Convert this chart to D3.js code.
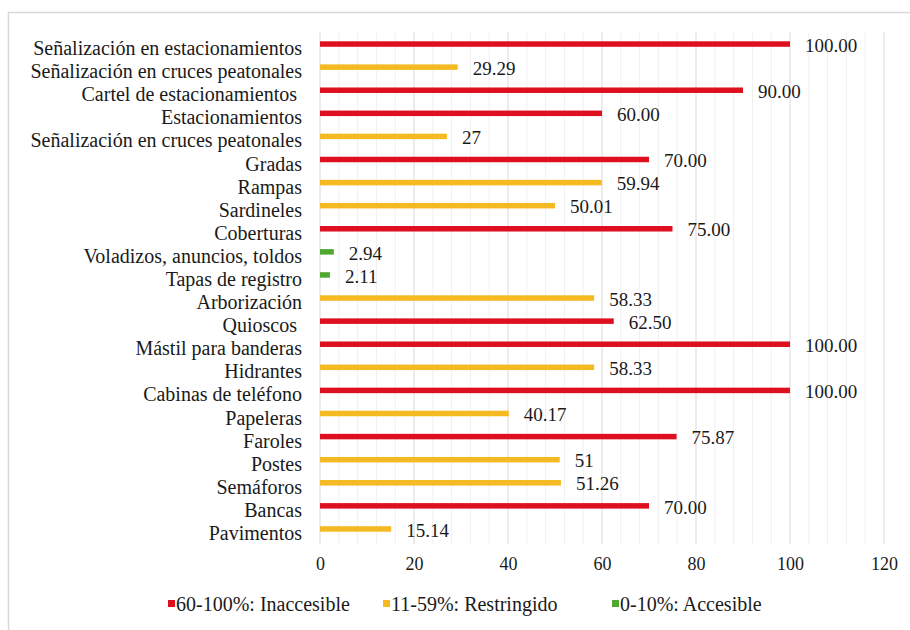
<!DOCTYPE html>
<html><head><meta charset="utf-8">
<script src="https://cdn.jsdelivr.net/npm/d3@7"></script>
<style>
body{margin:0;background:#fff;}
svg text{font-family:"Liberation Serif","Tinos","Times New Roman","DejaVu Serif",serif;fill:#1a1a1a;}
</style></head>
<body><svg id="c" width="910" height="630"></svg>
<script>
const categories = ["Señalización en estacionamientos","Señalización en cruces peatonales","Cartel de estacionamientos ","Estacionamientos","Señalización en cruces peatonales","Gradas","Rampas","Sardineles","Coberturas","Voladizos, anuncios, toldos","Tapas de registro","Arborización","Quioscos ","Mástil para banderas","Hidrantes","Cabinas de teléfono","Papeleras","Faroles","Postes","Semáforos","Bancas","Pavimentos"];
const values = [100,29.29,90,60,27,70,59.94,50.01,75,2.94,2.11,58.33,62.5,100,58.33,100,40.17,75.87,51,51.26,70,15.14];
const valueLabels = ["100.00","29.29","90.00","60.00","27","70.00","59.94","50.01","75.00","2.94","2.11","58.33","62.50","100.00","58.33","100.00","40.17","75.87","51","51.26","70.00","15.14"];
const groups = ["r","y","r","r","y","r","y","y","r","g","g","y","r","r","y","r","y","r","y","y","r","y"];
const legendKeys = ["r","y","g"];
const legendLabels = ["60-100%: Inaccesible","11-59%: Restringido","0-10%: Accesible"];
const xTicks = [0,20,40,60,80,100,120];

const colors = {r:"#DE0F1E", y:"#F5B921", g:"#4EA72E"};
const svg = d3.select("#c");
svg.append("rect").attr("x",8.5).attr("y",12.5).attr("width",920).attr("height",640)
  .attr("fill","none").attr("stroke","#D9D9D9").attr("stroke-width",1.5);

const pLeft=320, pRight=884, pTop=32.5, pBottom=540.5;
const x = d3.scaleLinear().domain([0,120]).range([pLeft,pRight]);
const idx = d3.range(categories.length);
const y = d3.scaleBand().domain(idx).range([pTop,pBottom]);

const g = svg.append("g");
g.selectAll("line.minor").data(d3.range(0,121,4).filter(v=>v%20!==0)).join("line")
  .attr("x1",d=>x(d)).attr("x2",d=>x(d)).attr("y1",pTop).attr("y2",pBottom+4)
  .attr("stroke","#F0F0F0").attr("stroke-width",1);
const g2 = svg.append("g");
g2.selectAll("line").data(xTicks).join("line")
  .attr("x1",d=>x(d)).attr("x2",d=>x(d)).attr("y1",pTop).attr("y2",pBottom+4)
  .attr("stroke","#D9D9D9").attr("stroke-width",1);

const bh = 5.5;
svg.append("g").selectAll("rect").data(idx).join("rect")
  .attr("x",x(0)).attr("y",i=>y(i)+y.bandwidth()/2-bh/2)
  .attr("width",i=>x(values[i])-x(0)).attr("height",bh)
  .attr("fill",i=>colors[groups[i]]);

svg.append("g").selectAll("text").data(idx).join("text")
  .attr("x",i=>x(values[i])+15).attr("y",i=>y(i)+y.bandwidth()/2+1)
  .attr("dy","0.35em").attr("font-size",19).text(i=>valueLabels[i]);

svg.append("g").selectAll("text").data(idx).join("text")
  .attr("x",pLeft-18).attr("y",i=>y(i)+y.bandwidth()/2+4)
  .attr("dy","0.35em").attr("text-anchor","end").attr("font-size",20)
  .style("white-space","pre").text(i=>categories[i]);

const xa = svg.append("g").attr("transform",`translate(0,${pBottom})`)
  .call(d3.axisBottom(x).tickValues(xTicks).tickSize(0).tickPadding(17));
xa.select(".domain").remove();
xa.selectAll("text").attr("font-size",18).attr("fill","#1a1a1a");

const lx = [168,383,612];
const leg = svg.append("g").selectAll("g").data(legendKeys).join("g")
  .attr("transform",(d,i)=>`translate(${lx[i]},604)`);
leg.append("rect").attr("x",0).attr("y",-4).attr("width",7).attr("height",7).attr("fill",d=>colors[d]);
leg.append("text").attr("x",8).attr("y",0).attr("dy","0.35em").attr("font-size",20)
  .text((d,i)=>legendLabels[i]);
</script></body></html>
